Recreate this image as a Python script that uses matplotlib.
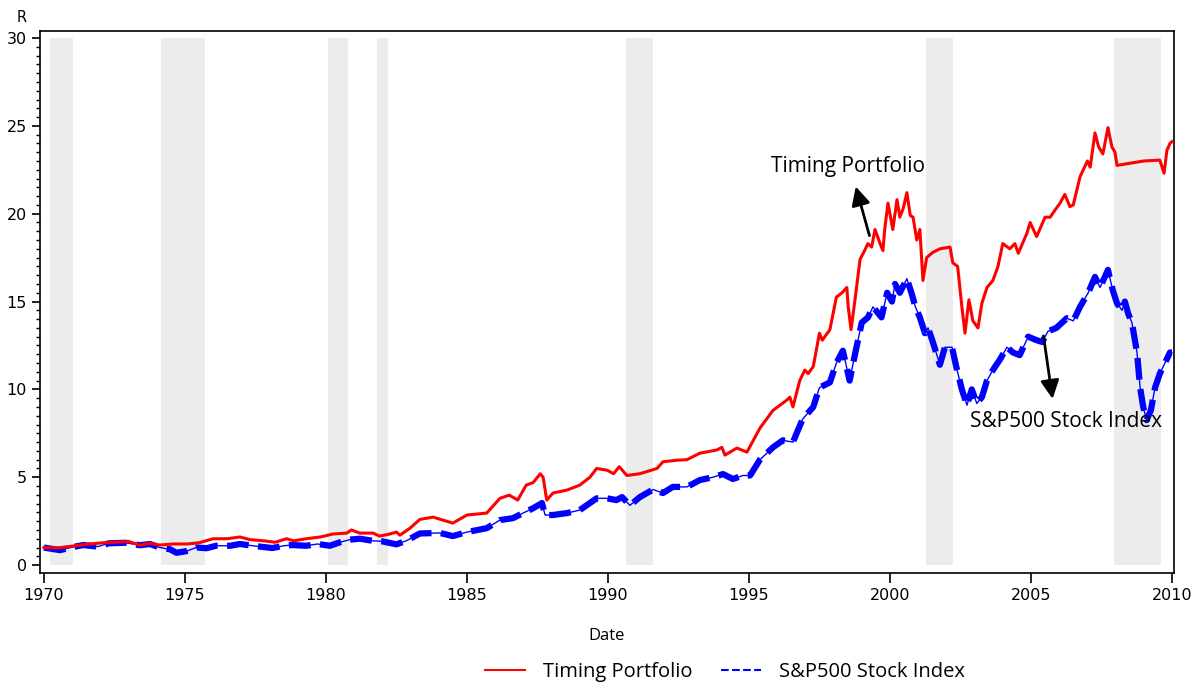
import matplotlib
matplotlib.use("Agg")
import matplotlib.pyplot as plt
from matplotlib.lines import Line2D
from matplotlib.ticker import MultipleLocator

# timing portfolio (decimal year, value)
tp_year = [1970.0, 1970.5, 1971.0, 1971.6, 1972.1, 1972.6, 1973.0, 1973.4, 1973.76, 1974.1,
           1974.57, 1975.07, 1975.5, 1976.0, 1976.5, 1976.95, 1977.3, 1977.8, 1978.2, 1978.6,
           1978.85, 1979.3, 1979.8, 1980.25, 1980.74, 1980.9, 1981.2, 1981.67, 1981.9, 1982.27,
           1982.5, 1982.62, 1982.98, 1983.33, 1983.8, 1984.5, 1985.0, 1985.7, 1986.17, 1986.5,
           1986.8, 1987.1, 1987.35, 1987.6, 1987.7, 1987.83, 1988.05, 1988.55, 1989.0, 1989.36,
           1989.6, 1989.97, 1990.2, 1990.4, 1990.67, 1991.13, 1991.74, 1991.95, 1992.45, 1992.8,
           1993.26, 1993.86, 1994.04, 1994.15, 1994.57, 1994.93, 1995.39, 1995.85, 1996.35, 1996.45,
           1996.56, 1996.8, 1996.98, 1997.1, 1997.28, 1997.5, 1997.6, 1997.87, 1998.1, 1998.3,
           1998.47, 1998.52, 1998.62, 1998.76, 1998.94, 1999.1, 1999.22, 1999.35, 1999.47, 1999.65,
           1999.75, 1999.82, 1999.93, 2000.1, 2000.25, 2000.35, 2000.47, 2000.6, 2000.72, 2000.82,
           2000.95, 2001.06, 2001.17, 2001.3, 2001.52, 2001.77, 2002.13, 2002.23, 2002.4, 2002.55,
           2002.66, 2002.8, 2002.94, 2003.12, 2003.26, 2003.44, 2003.65, 2003.83, 2004.0, 2004.25,
           2004.43, 2004.55, 2004.86, 2004.97, 2005.2, 2005.5, 2005.68, 2005.85, 2006.03, 2006.2,
           2006.38, 2006.5, 2006.74, 2007.0, 2007.1, 2007.27, 2007.4, 2007.55, 2007.73, 2007.87,
           2007.98, 2008.05, 2008.62, 2009.0, 2009.57, 2009.72, 2009.82, 2009.93, 2010.0]
tp_value = [1.0, 0.98, 1.08, 1.2, 1.27, 1.3, 1.35, 1.13, 1.24, 1.14,
            1.2, 1.2, 1.27, 1.5, 1.5, 1.6, 1.45, 1.38, 1.3, 1.5,
            1.38, 1.5, 1.6, 1.77, 1.82, 2.0, 1.82, 1.82, 1.65, 1.77,
            1.88, 1.7, 2.1, 2.6, 2.73, 2.39, 2.85, 2.96, 3.8, 3.98,
            3.7, 4.55, 4.7, 5.2, 5.0, 3.7, 4.1, 4.27, 4.55, 5.0,
            5.5, 5.4, 5.2, 5.6, 5.1, 5.2, 5.5, 5.88, 5.97, 6.0,
            6.37, 6.55, 6.7, 6.26, 6.66, 6.43, 7.8, 8.8, 9.4, 9.56,
            9.0, 10.5, 11.1, 10.9, 11.3, 13.2, 12.8, 13.4, 15.25, 15.5,
            15.8, 14.7, 13.4, 15.1, 17.4, 17.9, 18.3, 18.1, 19.1, 18.3,
            17.9, 19.2, 20.6, 19.1, 20.8, 19.8, 20.3, 21.2, 19.9, 19.8,
            18.5, 19.1, 16.2, 17.5, 17.8, 18.0, 18.1, 17.2, 17.0, 14.7,
            13.2, 15.1, 13.9, 13.5, 14.9, 15.8, 16.2, 17.0, 18.3, 18.0,
            18.3, 17.75, 18.9, 19.5, 18.7, 19.8, 19.8, 20.2, 20.6, 21.1,
            20.4, 20.5, 22.1, 23.0, 22.65, 24.6, 23.8, 23.4, 24.9, 23.8,
            23.5, 22.75, 22.9, 23.0, 23.05, 22.3, 23.6, 24.0, 24.1]

# S&P500 stock index (decimal year, value)
sp_year = [1970.0, 1970.1, 1970.57, 1971.0, 1971.4, 1971.9, 1972.3, 1972.9, 1973.4, 1973.76,
           1974.1, 1974.47, 1974.7, 1975.07, 1975.4, 1975.77, 1976.1, 1976.6, 1976.95, 1977.4,
           1978.1, 1978.5, 1978.8, 1979.3, 1979.7, 1980.14, 1980.5, 1980.85, 1981.2, 1981.67,
           1982.0, 1982.5, 1982.87, 1983.33, 1984.04, 1984.5, 1985.0, 1985.7, 1986.17, 1986.63,
           1986.99, 1987.35, 1987.66, 1987.77, 1988.05, 1988.55, 1989.0, 1989.6, 1989.97, 1990.3,
           1990.5, 1990.78, 1991.13, 1991.6, 1991.95, 1992.3, 1992.8, 1993.26, 1993.72, 1994.08,
           1994.43, 1994.79, 1995.04, 1995.39, 1995.85, 1996.2, 1996.56, 1996.9, 1997.28, 1997.5,
           1997.87, 1998.1, 1998.33, 1998.57, 1998.76, 1999.0, 1999.22, 1999.4, 1999.7, 1999.9,
           2000.07, 2000.18, 2000.35, 2000.6, 2000.78, 2000.9, 2001.06, 2001.24, 2001.35, 2001.52,
           2001.77, 2001.95, 2002.2, 2002.35, 2002.55, 2002.73, 2002.9, 2003.08, 2003.26, 2003.44,
           2003.65, 2003.9, 2004.15, 2004.36, 2004.6, 2004.9, 2005.2, 2005.4, 2005.6, 2005.9,
           2006.27, 2006.5, 2006.74, 2007.03, 2007.27, 2007.45, 2007.73, 2007.9, 2008.05, 2008.23,
           2008.33, 2008.45, 2008.58, 2008.76, 2008.87, 2008.98, 2009.1, 2009.25, 2009.4, 2009.57,
           2009.75, 2009.93, 2010.0]
sp_value = [1.0, 0.97, 0.85, 1.02, 1.14, 1.05, 1.24, 1.27, 1.13, 1.2,
            1.0, 0.9, 0.7, 0.8, 1.0, 0.96, 1.1, 1.1, 1.2, 1.1,
            0.97, 1.1, 1.14, 1.1, 1.2, 1.1, 1.3, 1.45, 1.5, 1.38,
            1.35, 1.18, 1.4, 1.8, 1.83, 1.65, 1.88, 2.1, 2.56, 2.67,
            2.96, 3.24, 3.53, 2.85, 2.85, 2.96, 3.13, 3.8, 3.8, 3.7,
            3.87, 3.4, 3.87, 4.3, 4.1, 4.45, 4.45, 4.84, 5.0, 5.18,
            4.9, 5.1, 5.1, 6.0, 6.7, 7.1, 7.0, 8.3, 9.0, 10.1,
            10.4, 11.5, 12.2, 10.5, 12.0, 13.8, 14.1, 14.7, 14.1, 15.5,
            15.0, 16.0, 15.5, 16.3, 15.4, 14.7, 14.1, 13.2, 13.5, 12.7,
            11.4, 12.4, 12.4, 11.3, 10.0, 9.1, 10.0, 9.2, 9.56, 10.5,
            11.1, 11.7, 12.4, 12.1, 11.95, 13.0, 12.8, 12.7, 13.3, 13.5,
            14.05, 13.9, 14.7, 15.5, 16.4, 15.8, 16.8, 15.65, 14.9, 14.5,
            15.0, 14.3, 13.8, 12.1, 10.1, 9.0, 8.25, 8.8, 10.1, 10.9,
            11.5, 12.1, 12.1]

# shaded recession periods
rec_start = [1970.21, 1974.15, 1980.07, 1981.81, 1990.64, 2001.28, 2007.94]
rec_end = [1971.03, 1975.71, 1980.78, 1982.2, 1991.6, 2002.23, 2009.61]

label_font = ["Open Sans", "DejaVu Sans"]

fig = plt.figure(figsize=(11.94, 6.84), dpi=100)
ax = fig.add_axes([0.0335, 0.1623, 0.9497, 0.7924])

for s, e in zip(rec_start, rec_end):
    ax.fill_between([s, e], 0, 30, color="#ececec", linewidth=0, zorder=0)

ax.plot(sp_year, sp_value, color="blue", linewidth=1, zorder=2)
ax.plot(sp_year, sp_value, color="blue", linewidth=4.5, dashes=(3.5, 1.5), zorder=2)
ax.plot(tp_year, tp_value, color="red", linewidth=2.2, zorder=3)

ax.set_xlim(1969.86, 2010.07)
ax.set_ylim(-0.45, 30.4)
ax.set_xticks(range(1970, 2011, 5))
ax.set_yticks(range(0, 31, 5))
ax.yaxis.set_minor_locator(MultipleLocator(0.5))
ax.tick_params(axis="both", labelsize=11.5, colors="black")
ax.tick_params(axis="x", length=7, width=1.2)
ax.tick_params(axis="y", which="major", length=6, width=1.2)
ax.tick_params(axis="y", which="minor", length=3, width=1)
for sp in ax.spines.values():
    sp.set_linewidth(1.2)

ax.set_xlabel("Date", fontsize=12, family=label_font, labelpad=18)
fig.text(22 / 1194, 1 - 18 / 684, "R", fontsize=10.5, ha="center", va="center")

# arrows and their labels
arrow = dict(arrowstyle="-|>", color="black", lw=2, mutation_scale=28)
ax.annotate("", xy=(1998.76, 21.7), xytext=(1999.3, 18.6), arrowprops=arrow)
ax.text(1998.5, 22.7, "Timing Portfolio", fontsize=15, family=label_font,
        ha="center", va="center")
ax.annotate("", xy=(2005.78, 9.3), xytext=(2005.43, 13.2), arrowprops=arrow)
ax.text(2006.24, 8.2, "S&P500 Stock Index", fontsize=15, family=label_font,
        ha="center", va="center")

handles = [Line2D([], [], color="red", linewidth=1.5),
           Line2D([], [], color="blue", linewidth=1.5, linestyle="--")]
fig.legend(handles, ["Timing Portfolio", "S&P500 Stock Index"], loc="center",
           bbox_to_anchor=(0.607, 0.018), ncol=2, frameon=False,
           prop={"family": label_font, "size": 14.5}, handlelength=2.0,
           handletextpad=0.9, columnspacing=1.4)

fig.savefig("out.png", dpi=100)
